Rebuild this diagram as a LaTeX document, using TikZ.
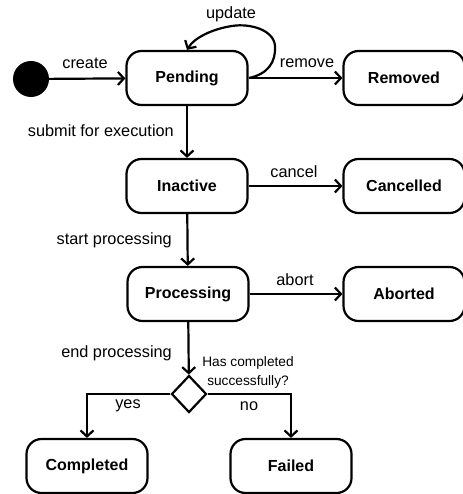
\documentclass[tikz,border=0pt]{standalone}
\usepackage{fontspec}
\setmainfont{Liberation Sans}
\usetikzlibrary{arrows.meta,shapes.geometric}
\begin{document}
\begin{tikzpicture}[x=1pt,y=-1pt,
  state/.style={draw,line width=2.2pt,rounded corners=15pt,minimum width=121pt,minimum height=54pt,font=\fontsize{16}{18}\selectfont\bfseries,inner sep=0pt},
  lbl/.style={font=\fontsize{16.3}{18}\selectfont,inner sep=0pt},
  conn/.style={line width=2.2pt,-{Straight Barb[length=6pt,width=13pt,line width=2.2pt]}}]
\useasboundingbox (0,0) rectangle (462,494);
\node[circle,fill=black,minimum size=36pt,inner sep=0pt] (init) at (31,79) {};
\node[state] (pend) at (187,78) {Pending};
\node[state] (rem) at (404,78) {Removed};
\node[state] (inac) at (187,186) {Inactive};
\node[state] (canc) at (404,186) {Cancelled};
\node[state] (proc) at (188,294) {Processing};
\node[state] (abor) at (404,294) {Aborted};
\node[diamond,draw,line width=2.2pt,minimum width=35pt,minimum height=37pt,inner sep=0pt] (dec) at (189,394) {};
\node[state] (comp) at (87,466) {Completed};
\node[state] (fail) at (291,466) {Failed};
\coordinate (loopstart) at (249,78);
\coordinate (loopright) at (275,46);
\coordinate (looptop) at (232,26);
\draw[conn] (loopstart) .. controls (268,74) and (276,62) .. (loopright)
  .. controls (274,30) and (250,23) .. (looptop)
  .. controls (212,29) and (194,38) .. (pend.north);
\draw[conn] (init) -- (pend);
\draw[conn] (pend) -- (rem);
\draw[conn] (pend) -- (inac);
\draw[conn] (inac) -- (canc);
\draw[conn] (inac) -- (proc);
\draw[conn] (proc) -- (abor);
\draw[conn] (proc) -- (dec);
\draw[conn] (dec.west) -| (comp.north);
\draw[conn] (dec.east) -| (fail.north);
\node[lbl] (l1) at (85,63) {create};
\node[lbl] (l2) at (231,14) {update};
\node[lbl] (l3) at (307,63) {remove};
\node[lbl,anchor=east] (l4) at (174,131) {submit for execution};
\node[lbl] (l5) at (294,172) {cancel};
\node[lbl,anchor=east] (l6) at (172,240) {start processing};
\node[lbl] (l7) at (295,280) {abort};
\node[lbl,anchor=east] (l8) at (172,353) {end processing};
\node[font=\fontsize{13.7}{19}\selectfont,align=center,inner sep=0pt] (l9) at (248,372) {Has completed\\successfully?};
\node[lbl] (l10) at (128,406) {yes};
\node[lbl] (l11) at (249,406) {no};
\end{tikzpicture}
\end{document}
